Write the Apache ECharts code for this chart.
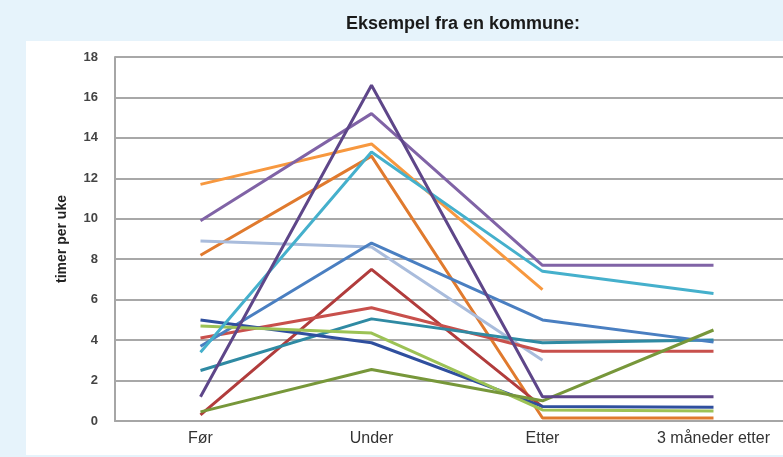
<!DOCTYPE html>
<html>
<head>
<meta charset="utf-8">
<script src="https://cdn.jsdelivr.net/npm/echarts@6/dist/echarts.min.js"></script>
<style>
html, body { margin: 0; padding: 0; background: #e6f3fb; }
#chart { width: 783px; height: 457px; }
</style>
</head>
<body>
<div id="chart"></div>
<script>
// kategorier
var categories = ['Før', 'Under', 'Etter', '3 måneder etter'];

// en linje per person (timer per uke), null = ingen verdi
var darkPurple = [1.2, 16.6, 1.2, 1.2];
var purple = [9.9, 15.2, 7.7, 7.7];
var lightOrange = [11.7, 13.7, 6.5, null];
var darkOrange = [8.2, 13.1, 0.15, 0.15];
var cyan = [3.4, 13.3, 7.4, 6.3];
var lightBlue = [8.9, 8.6, 3.0, null];
var blue = [3.7, 8.8, 5.0, 3.9];
var red = [4.1, 5.6, 3.45, 3.45];
var darkRed = [0.3, 7.5, 0.7, null];
var teal = [2.5, 5.05, 3.87, 4.0];
var darkBlue = [5.0, 3.87, 0.72, 0.68];
var lightGreen = [4.7, 4.35, 0.55, 0.5];
var olive = [0.45, 2.55, 1.0, 4.5];

var yTicks = [0, 2, 4, 6, 8, 10, 12, 14, 16, 18];

var lines = [
	{ data: darkOrange, color: '#e07a2e' },
	{ data: lightOrange, color: '#f7983f' },
	{ data: lightBlue, color: '#a9bcdc' },
	{ data: darkRed, color: '#b13c3c' },
	{ data: red, color: '#c8504c' },
	{ data: teal, color: '#2f8aa3' },
	{ data: blue, color: '#4a7fc1' },
	{ data: darkBlue, color: '#2f4f9e' },
	{ data: lightGreen, color: '#9cc255' },
	{ data: olive, color: '#77973a' },
	{ data: cyan, color: '#45b0cc' },
	{ data: purple, color: '#8063a6' },
	{ data: darkPurple, color: '#5e4689' }
];

var series = [];
for (var i = 0; i < lines.length; i++) {
	series.push({
		type: 'line',
		data: lines[i].data,
		symbol: 'none',
		lineStyle: { color: lines[i].color, width: 3 },
		connectNulls: false,
		silent: true
	});
}

var myChart = echarts.init(document.getElementById('chart'));
var option = {
	backgroundColor: '#e6f3fb',
	animation: false,
	graphic: [{
		type: 'rect',
		left: 26,
		top: 41,
		shape: { width: 757, height: 414 },
		style: { fill: '#ffffff' },
		z: -10
	}],
	title: {
		text: 'Eksempel fra en kommune:',
		left: 458,
		top: 10,
		textAlign: 'center',
		textStyle: { fontFamily: 'Liberation Sans', fontSize: 18, fontWeight: 'bold', color: '#1a1a1a' }
	},
	grid: { left: 115, top: 57, width: 684, height: 364, containLabel: false, outerBoundsMode: 'none' },
	xAxis: {
		type: 'category',
		data: categories,
		boundaryGap: true,
		axisLine: { lineStyle: { color: '#a6a6a6', width: 2 } },
		axisTick: { show: false },
		axisLabel: { fontFamily: 'Liberation Sans', fontSize: 16, color: '#333', margin: 10 }
	},
	yAxis: {
		type: 'value',
		min: 0,
		max: 18,
		interval: 2,
		name: 'timer per uke',
		nameLocation: 'middle',
		nameGap: 46,
		nameTextStyle: { fontFamily: 'Liberation Sans', fontSize: 14, fontWeight: 'bold', color: '#222' },
		axisLine: { show: true, lineStyle: { color: '#a6a6a6', width: 2 } },
		axisTick: { show: false },
		splitLine: { lineStyle: { color: '#a8a8a8', width: 2 } },
		axisLabel: {
			fontFamily: 'Liberation Sans', fontSize: 13, fontWeight: 'bold', color: '#444', margin: 17,
			formatter: function (v) { return yTicks.indexOf(v) >= 0 ? String(v) : ''; }
		}
	},
	series: series
};
myChart.setOption(option);
</script>
</body>
</html>
